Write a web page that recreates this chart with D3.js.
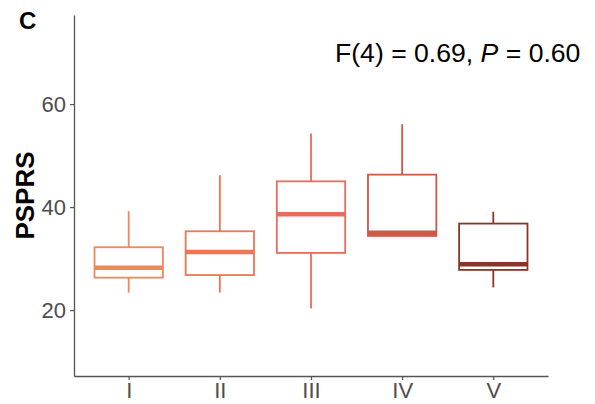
<!DOCTYPE html>
<html>
<head>
<meta charset="utf-8">
<script src="https://cdn.jsdelivr.net/npm/d3@7"></script>
<style>
  html, body { margin: 0; padding: 0; background: #fff; }
  svg { display: block; font-family: "Liberation Sans", Arial, sans-serif; }
</style>
</head>
<body>
<div id="chart"></div>
<script>
// groups and their box summaries
const groups = ["I", "II", "III", "IV", "V"];
const whiskerLow = [23.4, 23.4, 20.3, 34.4, 24.4];
const q1 = [26.3, 26.8, 31.1, 34.4, 27.8];
const medians = [28.2, 31.3, 38.6, 35.0, 28.9];
const q3 = [32.2, 35.3, 45.0, 46.3, 36.8];
const whiskerHigh = [39.2, 46.2, 54.3, 56.1, 39.1];
const colors = ["#F4845A", "#EF7553", "#E86C5C", "#CC5A4A", "#8A3528"];
const yTicks = [20, 40, 60];

const W = 595, H = 404;
const margin = { top: 15, right: 47, bottom: 28, left: 74 };

const svg = d3.select("#chart").append("svg")
  .attr("width", W)
  .attr("height", H);

const x = d3.scalePoint()
  .domain(groups)
  .range([margin.left, W - margin.right])
  .padding(0.6);

const y = d3.scaleLinear()
  .domain([7.2, 77.3])
  .range([H - margin.bottom, margin.top]);

const boxW = x.step() * 0.75;

const data = groups.map((g, i) => ({
  g, lo: whiskerLow[i], q1: q1[i], med: medians[i], q3: q3[i], hi: whiskerHigh[i], color: colors[i]
}));

// axes
const yAxis = svg.append("g")
  .attr("transform", `translate(${margin.left},0)`)
  .call(d3.axisLeft(y).tickValues(yTicks).tickSize(4).tickPadding(4).tickSizeOuter(0));
yAxis.select(".domain").attr("stroke", "#555").attr("stroke-width", 1.3);
yAxis.selectAll(".tick line").attr("stroke", "#555").attr("stroke-width", 1.2);
yAxis.selectAll(".tick text")
  .attr("fill", "#4D4D4D")
  .style("font-size", "22px");

const xAxis = svg.append("g")
  .attr("transform", `translate(0,${H - margin.bottom})`)
  .call(d3.axisBottom(x).tickSize(4).tickPadding(2).tickSizeOuter(0));
xAxis.select(".domain").attr("stroke", "#555").attr("stroke-width", 1.3);
xAxis.selectAll(".tick line").attr("stroke", "#555").attr("stroke-width", 1.2);
xAxis.selectAll(".tick text")
  .attr("fill", "#4D4D4D")
  .style("font-size", "22px");

// boxes
const box = svg.append("g").selectAll("g")
  .data(data)
  .enter().append("g");

box.append("line")
  .attr("x1", d => x(d.g)).attr("x2", d => x(d.g))
  .attr("y1", d => y(d.q3)).attr("y2", d => y(d.hi))
  .attr("stroke", d => d.color).attr("stroke-width", 1.8);

box.append("line")
  .attr("x1", d => x(d.g)).attr("x2", d => x(d.g))
  .attr("y1", d => y(d.q1)).attr("y2", d => y(d.lo))
  .attr("stroke", d => d.color).attr("stroke-width", 1.8);

box.append("rect")
  .attr("x", d => x(d.g) - boxW / 2)
  .attr("width", boxW)
  .attr("y", d => y(d.q3))
  .attr("height", d => y(d.q1) - y(d.q3))
  .attr("fill", "#fff")
  .attr("stroke", d => d.color)
  .attr("stroke-width", 1.8);

box.append("line")
  .attr("x1", d => x(d.g) - boxW / 2).attr("x2", d => x(d.g) + boxW / 2)
  .attr("y1", d => y(d.med)).attr("y2", d => y(d.med))
  .attr("stroke", d => d.color).attr("stroke-width", 4.5);

// y label
svg.append("text")
  .attr("transform", `translate(34,${(margin.top + H - margin.bottom) / 2}) rotate(-90)`)
  .attr("text-anchor", "middle")
  .style("font-size", "26px")
  .style("font-weight", "bold")
  .attr("fill", "#000")
  .text("PSPRS");

// panel letter
svg.append("text")
  .attr("x", 19).attr("y", 29)
  .style("font-size", "24px")
  .style("font-weight", "bold")
  .text("C");

// stats annotation
const stat = svg.append("text")
  .attr("x", 335).attr("y", 62)
  .style("font-size", "26.6px")
  .attr("fill", "#000");
stat.append("tspan").text("F(4) = 0.69, ");
stat.append("tspan").style("font-style", "italic").text("P");
stat.append("tspan").text(" = 0.60");
</script>
</body>
</html>
